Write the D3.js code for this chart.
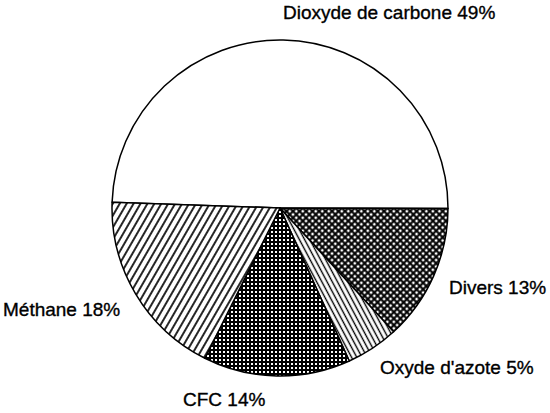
<!DOCTYPE html>
<html>
<head>
<meta charset="utf-8">
<script src="https://cdn.jsdelivr.net/npm/d3@7"></script>
<style>
  body { margin: 0; background: #fff; }
  text { font-family: "Liberation Sans", Arial, sans-serif; font-size: 19px; fill: #000; stroke: #000; stroke-width: 0.35px; }
</style>
</head>
<body>
<svg width="550" height="413"></svg>
<script>
// data
var names = ["Dioxyde de carbone", "Divers", "Oxyde d'azote", "CFC", "Méthane"];
var shares = [49, 13, 5, 14, 18];
var fills = ["#fff", "url(#p-divers)", "url(#p-oxyde)", "url(#p-cfc)", "url(#p-methane)"];

// where each label sits (x, baseline)
var labelX = [283, 449, 380, 183, 3];
var labelY = [19, 294, 374, 406, 316];

var svg = d3.select("svg"),
	cx = 280, cy = 208, r = 168;

var defs = svg.append("defs");

function hatch(id, size, angle, cross, sw) {
	var p = defs.append("pattern")
		.attr("id", id)
		.attr("patternUnits", "userSpaceOnUse")
		.attr("width", size)
		.attr("height", size)
		.attr("patternTransform", "rotate(" + angle + ")");
	p.append("rect").attr("width", size).attr("height", size).attr("fill", "#fff");
	p.append("line")
		.attr("x1", size / 2).attr("y1", 0)
		.attr("x2", size / 2).attr("y2", size)
		.attr("stroke", "#000").attr("stroke-width", sw);
	if (cross) {
		p.append("line")
			.attr("x1", 0).attr("y1", size / 2)
			.attr("x2", size).attr("y2", size / 2)
			.attr("stroke", "#000").attr("stroke-width", sw);
	}
}

hatch("p-methane", 6, 30, false, 1.7);
hatch("p-oxyde", 4.6, -28, false, 1.4);
hatch("p-cfc", 4, 0, true, 2.0);
hatch("p-divers", 4.6, 45, true, 2.1);

var pie = d3.pie()
	.sort(null)
	.value(function(d) { return d; })
	.startAngle(-88 * Math.PI / 180)
	.endAngle(272 * Math.PI / 180);

var arc = d3.arc().innerRadius(0).outerRadius(r);

var g = svg.append("g").attr("transform", "translate(" + cx + "," + cy + ")");

g.selectAll("path")
	.data(pie(shares))
	.enter().append("path")
	.attr("d", arc)
	.attr("fill", function(d, i) { return fills[i]; })
	.attr("stroke", "#000")
	.attr("stroke-width", 1.5)
	.attr("stroke-linejoin", "round");

svg.selectAll("text.lbl")
	.data(names)
	.enter().append("text")
	.attr("class", "lbl")
	.attr("x", function(d, i) { return labelX[i]; })
	.attr("y", function(d, i) { return labelY[i]; })
	.text(function(d, i) { return d + " " + shares[i] + "%"; });
</script>
</body>
</html>
